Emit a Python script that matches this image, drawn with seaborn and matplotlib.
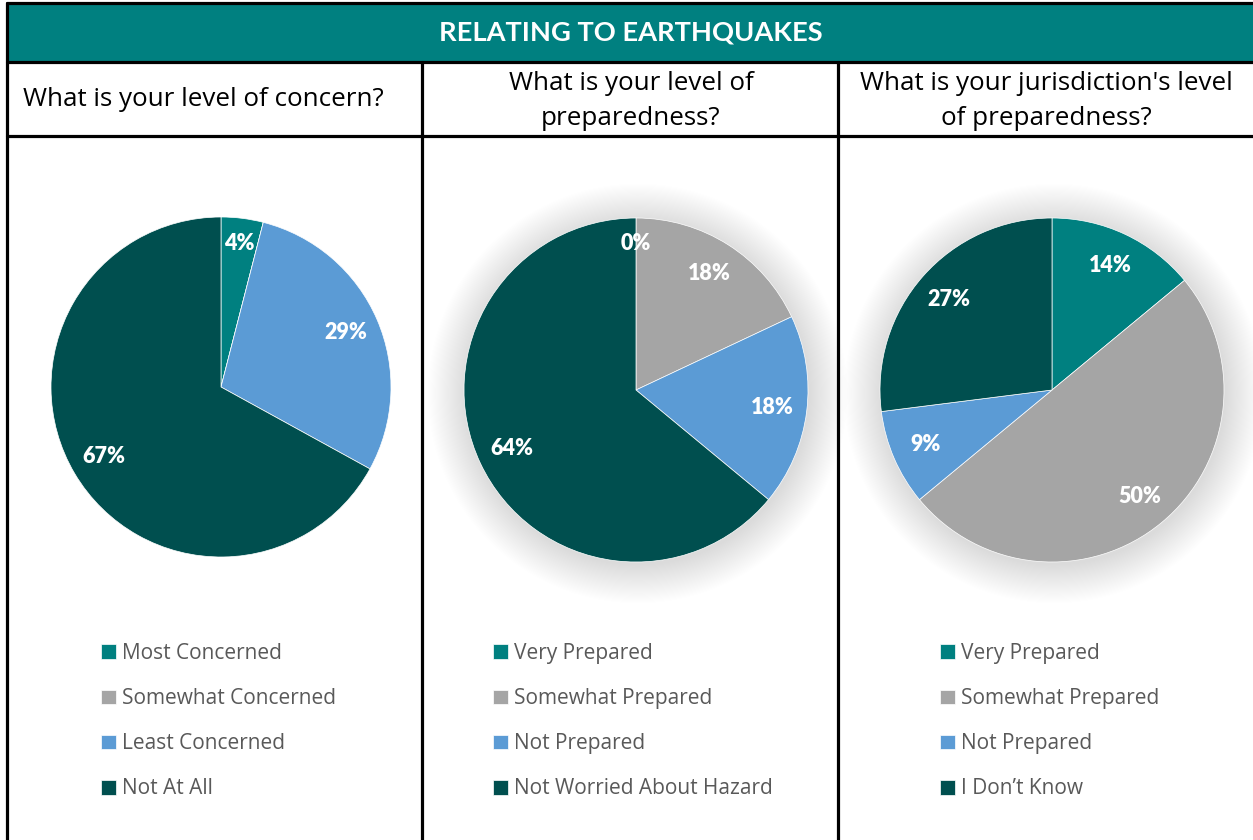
import numpy as np
import matplotlib
matplotlib.use("Agg")
import matplotlib.pyplot as plt
import seaborn as sns
from matplotlib.patches import Rectangle, Circle

sns.set_theme(style="white")
plt.rcParams['font.family'] = ['Open Sans', 'DejaVu Sans']

# ---------------- data ----------------
header = "RELATING TO EARTHQUAKES"
questions = ["What is your level of concern?",
             "What is your level of\npreparedness?",
             "What is your jurisdiction's level\nof preparedness?"]

concern_labels = ["Most Concerned", "Somewhat Concerned", "Least Concerned", "Not At All"]
concern_values = [4, 0, 29, 67]

prep_labels = ["Very Prepared", "Somewhat Prepared", "Not Prepared", "Not Worried About Hazard"]
prep_values = [0, 18, 18, 64]

juris_labels = ["Very Prepared", "Somewhat Prepared", "Not Prepared", "I Don\u2019t Know"]
juris_values = [14, 50, 9, 27]

colors = ["#008080", "#A5A5A5", "#5B9BD5", "#004F4F"]

# ---------------- figure ----------------
W, H = 1253, 840
fig = plt.figure(figsize=(W / 100, H / 100), dpi=100)
fig.patch.set_facecolor("white")

# background grid drawn in pixel coords
bg = fig.add_axes([0, 0, 1, 1])
bg.set_xlim(0, W)
bg.set_ylim(H, 0)
bg.axis("off")

bg.add_patch(Rectangle((7, 3), W - 7, 59, facecolor="#008080", edgecolor="none"))
lw = 2.3
bg.plot([7, W], [3, 3], color="black", lw=lw)
bg.plot([7, 7], [3, H], color="black", lw=lw)
bg.plot([7, W], [62, 62], color="black", lw=lw)
bg.plot([7, W], [136, 136], color="black", lw=lw)
for x in [422, 838]:
    bg.plot([x, x], [62, H], color="black", lw=lw)

bg.text(631, 33, header, color="white", fontsize=19.6, fontweight="bold",
        family=["Lato", "DejaVu Sans"], ha="center", va="center")

tsize = 18.7
bg.text(23, 100, questions[0], fontsize=tsize, color="black", ha="left", va="center")
bg.text(631, 101, questions[1], fontsize=tsize, color="black", ha="center", va="center",
        linespacing=1.55)
bg.text(1046, 101, questions[2], fontsize=tsize, color="black", ha="center", va="center",
        linespacing=1.55)

# ---------------- pies ----------------
panels = [
    (concern_values, concern_labels, 221, 387, 170, False, True),
    (prep_values, prep_labels, 636, 390, 172, True, False),
    (juris_values, juris_labels, 1052, 390, 172, True, False),
]
lim = 1.3
legend_x = [101, 493, 940]

for i, (vals, labs, cx, cy, R, shadow, hide_zero) in enumerate(panels):
    size = 2 * lim * R
    ax = fig.add_axes([(cx - size / 2) / W, (H - cy - size / 2) / H, size / W, size / H])

    # soft glow shadow like the office chart
    if shadow:
        for r in np.linspace(1.22, 1.0, 36):
            ax.add_patch(Circle((0.01, -0.02), r, facecolor="black", alpha=0.0042,
                                edgecolor="none", zorder=0))

    wedges, _ = ax.pie(vals, colors=colors, startangle=90, counterclock=False,
                       radius=1.0, wedgeprops=dict(linewidth=0.5, edgecolor="white"))
    for w in wedges:
        w.set_zorder(2)
    ax.set_xlim(-lim, lim)
    ax.set_ylim(-lim, lim)
    ax.set_aspect("equal")
    ax.axis("off")

    total = float(sum(vals))
    for w, v in zip(wedges, vals):
        if v == 0 and hide_zero:
            continue
        mid = np.deg2rad((w.theta1 + w.theta2) / 2)
        d = 0.85 if v / total < 0.06 else 0.8
        ax.text(d * np.cos(mid), d * np.sin(mid), f"{v:.0f}%", color="white",
                fontsize=15.5, fontweight="heavy", family=["Lato", "DejaVu Sans"],
                ha="center", va="center", zorder=3)

    leg = fig.legend(wedges, labs, loc="upper left",
                     bbox_to_anchor=(legend_x[i] / W, 1 - 643 / H),
                     frameon=False, fontsize=15, handlelength=0.7, handleheight=0.7,
                     handletextpad=0.3, labelspacing=1.16, borderaxespad=0,
                     borderpad=0)
    for t in leg.get_texts():
        t.set_color("#595959")

fig.savefig("out.png", dpi=100, facecolor="white")
